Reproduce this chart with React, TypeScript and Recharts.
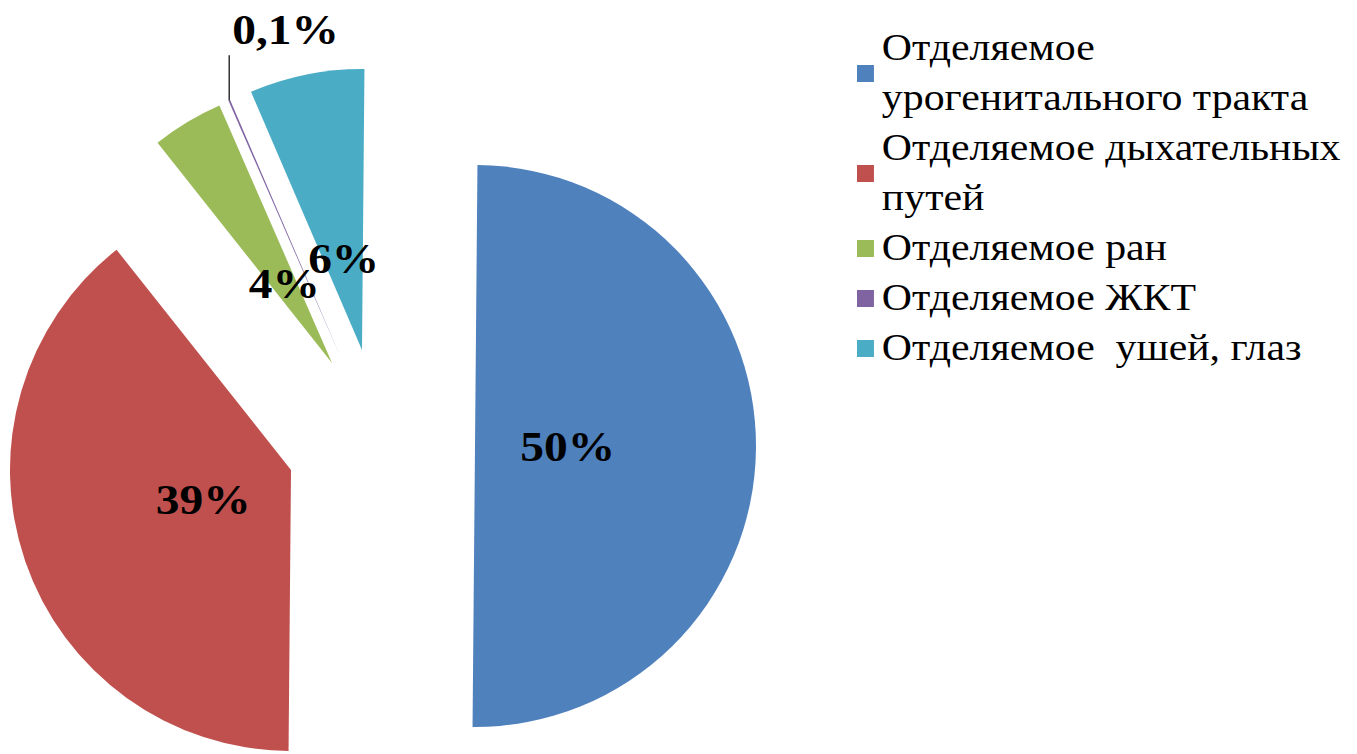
import React from "react";
import { PieChart, Pie, Cell, Legend } from "recharts";

const categories = [
  "Отделяемое урогенитального тракта",
  "Отделяемое дыхательных путей",
  "Отделяемое ран",
  "Отделяемое ЖКТ",
  "Отделяемое  ушей, глаз",
];
const shares = [50, 39.2, 4.1, 0.1, 6.6];
const shareLabels = ["50%", "39%", "4%", "0,1%", "6%"];
const colors = ["#4F81BD", "#C0504D", "#9BBB59", "#8064A2", "#4BACC6"];

// apex of every exploded slice, in px
const sliceCenters = [
  [475, 446],
  [291, 470],
  [332, 363],
  [341, 358],
  [362, 350],
];

const rows = categories.map((name, i) => ({ name, value: shares[i] }));

const RAD = Math.PI / 180;
const SERIF = "'Liberation Serif', 'Times New Roman', serif";
const STRETCH = 1.13; // the source picture is a little wider than tall

function renderLabel(p: any, k: number) {
  if (p.index !== k) return null;
  const { cx, cy, midAngle, outerRadius } = p;
  const cos = Math.cos(-midAngle * RAD);
  const sin = Math.sin(-midAngle * RAD);
  if (k === 3) {
    const ox = cx + outerRadius * cos;
    const oy = cy + outerRadius * sin;
    return (
      <g>
        <line x1={ox} y1={oy} x2={ox} y2={oy - 45} stroke="#333" strokeWidth={1.5} />
        <text
          transform={`translate(${ox + 3},${oy - 56}) scale(${STRETCH},1)`}
          textAnchor="start"
          fontFamily={SERIF}
          fontWeight="bold"
          fontSize={42}
          fill="#000"
        >
          {shareLabels[k]}
        </text>
      </g>
    );
  }
  const r = outerRadius * 0.33;
  const x = cx + r * cos;
  const y = cy + r * sin;
  return (
    <text
      transform={`translate(${x},${y}) scale(${STRETCH},1)`}
      textAnchor="middle"
      dominantBaseline="central"
      fontFamily={SERIF}
      fontWeight="bold"
      fontSize={42}
      fill="#000"
    >
      {shareLabels[k]}
    </text>
  );
}

const renderLegend = () => (
  <div
    style={{
      fontFamily: SERIF,
      fontSize: 37,
      lineHeight: "50px",
      color: "#000",
      width: 440,
      transform: "scaleX(1.13)",
      transformOrigin: "0 0",
    }}
  >
    {categories.map((c, i) => (
      <div key={i} style={{ display: "flex", alignItems: "center" }}>
        <span style={{ width: 15, height: 17, background: colors[i], flex: "none", marginRight: 7 }} />
        <span style={{ whiteSpace: "pre-wrap" }}>{c}</span>
      </div>
    ))}
  </div>
);

export default function App() {
  return (
    <div style={{ position: "absolute", left: 0, top: 0, width: 1357, height: 754, overflow: "hidden", background: "#fff" }}>
      <PieChart width={1357} height={754} margin={{ top: 0, right: 0, bottom: 0, left: 0 }}>
        {sliceCenters.map(([cx, cy], k) => (
          <Pie
            key={k}
            data={rows}
            dataKey="value"
            nameKey="name"
            cx={cx}
            cy={cy}
            outerRadius={281}
            startAngle={89.5}
            endAngle={-270.5}
            stroke="none"
            labelLine={false}
            label={(p: any) => renderLabel(p, k)}
            legendType="none"
            isAnimationActive={false}
          >
            {rows.map((_, i) => (
              <Cell key={i} fill={i === k ? colors[i] : "none"} stroke="none" />
            ))}
          </Pie>
        ))}
        <Legend
          content={renderLegend}
          layout="vertical"
          align="right"
          verticalAlign="top"
          wrapperStyle={{ position: "absolute", left: 857, top: 23, width: 500 }}
        />
      </PieChart>
    </div>
  );
}
